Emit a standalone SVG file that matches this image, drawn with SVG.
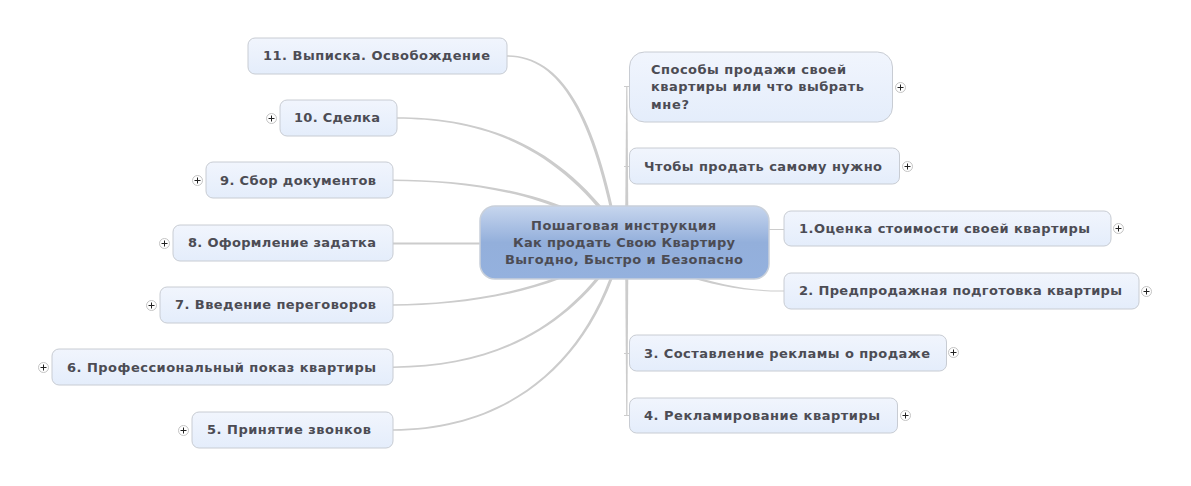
<svg xmlns="http://www.w3.org/2000/svg" width="1191" height="486" viewBox="0 0 1191 486">
<defs>
<linearGradient id="g" x1="0" y1="0" x2="0" y2="1"><stop offset="0" stop-color="#f1f5fd"/><stop offset="1" stop-color="#e4edfb"/></linearGradient>
<linearGradient id="c" x1="0" y1="0" x2="0" y2="1"><stop offset="0" stop-color="#c7d6ee"/><stop offset=".5" stop-color="#93afdb"/><stop offset="1" stop-color="#94b1de"/></linearGradient>
</defs>
<style>
.n{fill:url(#g);stroke:#c8ccd3;stroke-width:1}
.r{fill:url(#c);stroke:#c9d0da;stroke-width:1.5}
text{font-family:"DejaVu Sans",Verdana,sans-serif;font-weight:700;font-size:13px;fill:#4c4c54}
.m{text-anchor:middle}
.l{fill:#ccc;stroke:none}
.t{stroke:#ccc;stroke-width:1;fill:none}
.p{transform:translate(.5px,.5px)}
.p circle{fill:#fff;stroke:#c4c4c4}
.p path{stroke:#222;stroke-width:1;fill:none}
</style>
<g id="connectors">
<path class="l" d="M507 55.200C561 55.200 596 112 620 242L617 242C593 114 559 56.800 507 56.800Z"/>
<path class="l" d="M397 117.200C470 117.700 553 134 621 232L618 234C551 137 470 119.300 397 118.800Z"/>
<path class="l" d="M393 179.400C470 179.700 561 191 626 242L624 245C559 194 470 181.300 393 181Z"/>
<path class="l" d="M393 242.500H625V244.500H393Z"/>
<path class="l" d="M393 304.200C470 303.700 560 289 625 241L627 244C560 292 470 305.300 393 305.800Z"/>
<path class="l" d="M393 366.400C500 365.700 571 324 622 242L625 244C573 326 500 367.300 393 368Z"/>
<path class="l" d="M393 429.200C510 428.700 591 361 621 242L624 243C593 363 510 430.300 393 430.800Z"/>
<path class="l" d="M625 240L626.200 86H627.400L628.500 240L627.400 415H626.200Z"/>
<path class="t" d="M624 86.500H630M624 166.500H630M624 353.500H630M624 415.500H630"/>
<path class="t" d="M765 229.500H784"/>
<path class="l" d="M680 272C720 285 750 291 784 290.500V291.500C750 292 716 286.500 679 274Z"/>
</g>
<g id="node-center"><rect class="r" x="480" y="206" width="289" height="73" rx="15"/><text class="m" x="623.500" y="230" textLength="185">Пошаговая инструкция</text><text class="m" x="624" y="247" textLength="222">Как продать Свою Квартиру</text><text class="m" x="624" y="264" textLength="238">Выгодно, Быстро и Безопасно</text></g>
<g id="node-11"><rect class="n" x="248" y="38" width="259" height="36" rx="7"/><text x="263" y="60" textLength="227">11. Выписка. Освобождение</text></g>
<g id="node-10"><rect class="n" x="280" y="100" width="117" height="36" rx="7"/><text x="294" y="122" textLength="86">10. Сделка</text><g class="p"><circle cx="271" cy="118" r="5"/><path d="M268 118H274M271 115V121"/></g></g>
<g id="node-9"><rect class="n" x="206" y="162" width="187" height="36" rx="7"/><text x="220" y="185" textLength="156">9. Сбор документов</text><g class="p"><circle cx="197" cy="180" r="5"/><path d="M194 180H200M197 177V183"/></g></g>
<g id="node-8"><rect class="n" x="173" y="225" width="220" height="36" rx="7"/><text x="188" y="247" textLength="188">8. Оформление задатка</text><g class="p"><circle cx="164" cy="243" r="5"/><path d="M161 243H167M164 240V246"/></g></g>
<g id="node-7"><rect class="n" x="160" y="287" width="233" height="36" rx="7"/><text x="175" y="309" textLength="201">7. Введение переговоров</text><g class="p"><circle cx="151" cy="305" r="5"/><path d="M148 305H154M151 302V308"/></g></g>
<g id="node-6"><rect class="n" x="52" y="349" width="341" height="36" rx="7"/><text x="67" y="372" textLength="309">6. Профессиональный показ квартиры</text><g class="p"><circle cx="43" cy="367" r="5"/><path d="M40 367H46M43 364V370"/></g></g>
<g id="node-5"><rect class="n" x="192" y="412" width="201" height="36" rx="7"/><text x="207" y="434" textLength="164">5. Принятие звонков</text><g class="p"><circle cx="183" cy="430" r="5"/><path d="M180 430H186M183 427V433"/></g></g>
<g id="node-r1"><rect class="n" x="629.500" y="52" width="263" height="70" rx="15"/><text x="651" y="74" textLength="195">Способы продажи своей</text><text x="651" y="91" textLength="213">квартиры или что выбрать</text><text x="651" y="109" textLength="38">мне?</text><g class="p"><circle cx="900" cy="87" r="5"/><path d="M897 87H903M900 84V90"/></g></g>
<g id="node-r2"><rect class="n" x="629.500" y="148" width="270" height="36" rx="7"/><text x="644" y="171" textLength="238">Чтобы продать самому нужно</text><g class="p"><circle cx="907" cy="166" r="5"/><path d="M904 166H910M907 163V169"/></g></g>
<g id="node-1"><rect class="n" x="784" y="211" width="327" height="35" rx="7"/><text x="799" y="233" textLength="291">1.Оценка стоимости своей квартиры</text><g class="p"><circle cx="1118" cy="228" r="5"/><path d="M1115 228H1121M1118 225V231"/></g></g>
<g id="node-2"><rect class="n" x="784" y="273" width="355" height="36" rx="7"/><text x="799" y="295" textLength="323">2. Предпродажная подготовка квартиры</text><g class="p"><circle cx="1146" cy="291" r="5"/><path d="M1143 291H1149M1146 288V294"/></g></g>
<g id="node-3"><rect class="n" x="629.500" y="335" width="317" height="36" rx="7"/><text x="644" y="358" textLength="286">3. Составление рекламы о продаже</text><g class="p"><circle cx="953" cy="352" r="5"/><path d="M950 352H956M953 349V355"/></g></g>
<g id="node-4"><rect class="n" x="629.500" y="398" width="268" height="35" rx="7"/><text x="644" y="420" textLength="236">4. Рекламирование квартиры</text><g class="p"><circle cx="905" cy="415" r="5"/><path d="M902 415H908M905 412V418"/></g></g>
</svg>
